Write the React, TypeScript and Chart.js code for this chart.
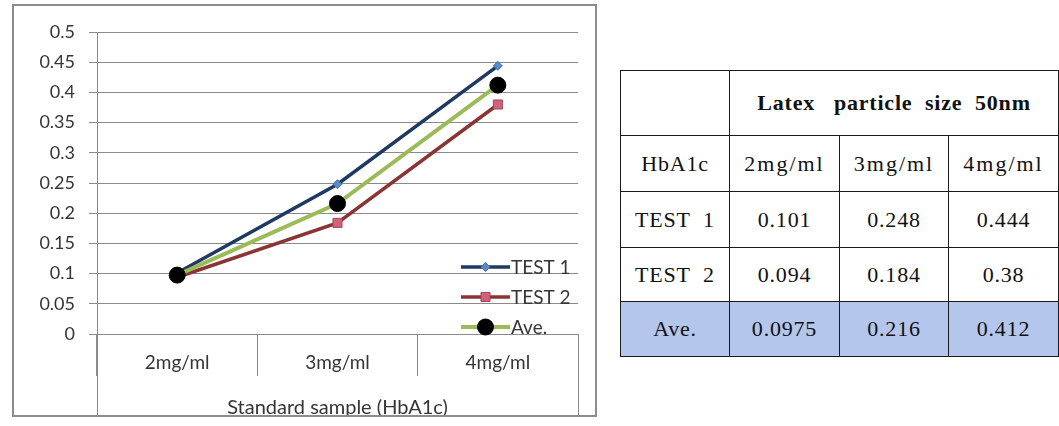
import React, { useEffect, useRef } from "react";
import { Chart, registerables } from "chart.js";

Chart.register(...registerables);

// ---- data ----
const categories = ["2mg/ml", "3mg/ml", "4mg/ml"];
const test1 = [0.101, 0.248, 0.444];
const test2 = [0.094, 0.184, 0.38];
const ave = [0.0975, 0.216, 0.412];
const seriesNames = ["TEST 1", "TEST 2", "Ave."];
const yTickLabels = ["0", "0.05", "0.1", "0.15", "0.2", "0.25", "0.3", "0.35", "0.4", "0.45", "0.5"];
const xAxisTitle = "Standard sample (HbA1c)";
const tableHeader = "Latex   particle  size  50nm";
const tableCorner = "HbA1c";
const tableRowNames = ["TEST  1", "TEST  2", "Ave."];
const tableRows = [test1, test2, ave];

// ---- styles ----
const GRID = "#8a8a8a";
const TEXT = "#353535";
const FONT = "Lato";

const legendPlugin = {
  id: "insideLegend",
  afterDatasetsDraw(chart: any) {
    const { ctx, chartArea } = chart;
    const ds = chart.data.datasets;
    const n = ds.length;
    ds.forEach((d: any, i: number) => {
      const y = chartArea.bottom - 7 - 30 * (n - 1 - i);
      const x0 = chartArea.right - 117;
      const x1 = chartArea.right - 68;
      const cx = (x0 + x1) / 2;
      ctx.save();
      ctx.strokeStyle = d.borderColor;
      ctx.lineWidth = d.borderWidth;
      ctx.beginPath();
      ctx.moveTo(x0, y);
      ctx.lineTo(x1, y);
      ctx.stroke();
      ctx.fillStyle = d.pointBackgroundColor;
      ctx.strokeStyle = d.pointBorderColor;
      ctx.lineWidth = 1;
      const r = d.pointRadius;
      ctx.beginPath();
      if (d.pointStyle === "circle") {
        ctx.arc(cx, y, r, 0, Math.PI * 2);
      } else if (d.pointStyle === "rect") {
        const s = Math.SQRT1_2 * r;
        ctx.rect(cx - s, y - s, 2 * s, 2 * s);
      } else {
        ctx.moveTo(cx, y - r);
        ctx.lineTo(cx + r, y);
        ctx.lineTo(cx, y + r);
        ctx.lineTo(cx - r, y);
        ctx.closePath();
      }
      ctx.fill();
      ctx.stroke();
      ctx.fillStyle = TEXT;
      ctx.font = `19px ${FONT}`;
      ctx.textBaseline = "middle";
      ctx.textAlign = "left";
      ctx.fillText(d.label, x1 + 1, y + 1);
      ctx.restore();
    });
  },
};

const bandPlugin = {
  id: "categoryBand",
  afterDraw(chart: any) {
    const { ctx, chartArea, height } = chart;
    ctx.save();
    ctx.strokeStyle = GRID;
    ctx.lineWidth = 1;
    ctx.beginPath();
    [chartArea.left, chartArea.right].forEach((x: number) => {
      const px = Math.round(x) + 0.5;
      ctx.moveTo(px, chartArea.bottom);
      ctx.lineTo(px, height - 11);
    });
    ctx.stroke();
    ctx.restore();
  },
};

function LineChart() {
  const ref = useRef<HTMLCanvasElement | null>(null);
  useEffect(() => {
    if (!ref.current) return;
    const chart = new Chart(ref.current, {
      type: "line",
      data: {
        labels: categories,
        datasets: [
          {
            label: seriesNames[0],
            data: test1,
            borderColor: "#1f3a60",
            borderWidth: 3.5,
            pointStyle: "rectRot",
            pointRadius: 4.5,
            pointBackgroundColor: "#5b8ac4",
            pointBorderColor: "#4471a8",
            pointBorderWidth: 1,
            tension: 0,
            order: 3,
          },
          {
            label: seriesNames[1],
            data: test2,
            borderColor: "#8b3434",
            borderWidth: 3.5,
            pointStyle: "rect",
            pointRadius: 6.4,
            pointBackgroundColor: "#d0637a",
            pointBorderColor: "#a5455a",
            pointBorderWidth: 1,
            tension: 0,
            order: 2,
          },
          {
            label: seriesNames[2],
            data: ave,
            borderColor: "#9bbb59",
            borderWidth: 4,
            pointStyle: "circle",
            pointRadius: 8,
            pointBackgroundColor: "#000000",
            pointBorderColor: "#000000",
            pointBorderWidth: 1,
            tension: 0,
            order: 1,
          },
        ],
      } as any,
      options: {
        animation: false,
        responsive: false,
        maintainAspectRatio: false,
        layout: { padding: { left: 0, right: 22, top: 32, bottom: 0 } },
        plugins: { legend: { display: false }, tooltip: { enabled: false } },
        scales: {
          x: {
            type: "category",
            offset: true,
            grid: {
              offset: true,
              drawOnChartArea: false,
              drawTicks: true,
              tickLength: 42,
              color: GRID,
              lineWidth: 1,
            },
            border: { display: true, color: GRID },
            ticks: {
              font: { family: FONT, size: 19 },
              color: TEXT,
              padding: -25,
              maxRotation: 0,
              autoSkip: false,
            },
            title: {
              display: true,
              text: xAxisTitle,
              font: { family: FONT, size: 20 },
              color: TEXT,
              padding: { top: 0, bottom: 6 },
            },
            afterFit: (s: any) => {
              s.height = 92;
            },
          },
          y: {
            min: 0,
            max: 0.5,
            ticks: {
              stepSize: 0.05,
              font: { family: FONT, size: 18 },
              color: TEXT,
              padding: 14,
              callback: (v: any, i: number) => yTickLabels[i] ?? String(Number(Number(v).toFixed(2))),
            },
            grid: { color: GRID, tickLength: 8, drawTicks: true, lineWidth: 1 },
            border: { display: true, color: GRID },
            afterFit: (s: any) => {
              s.width = 97;
            },
          },
        },
      } as any,
      plugins: [legendPlugin, bandPlugin],
    });
    return () => chart.destroy();
  }, []);
  return (
    <canvas
      ref={ref}
      width={600}
      height={426}
      style={{ position: "absolute", left: 0, top: 0, width: 600, height: 426 }}
    />
  );
}

const cellBorder = "1px solid #1a1a1a";
const cell: React.CSSProperties = {
  border: cellBorder,
  textAlign: "center",
  verticalAlign: "middle",
  padding: 0,
  whiteSpace: "pre",
  letterSpacing: 0.8,
};

function DataTable() {
  return (
    <table
      style={{
        position: "absolute",
        left: 620,
        top: 70,
        width: 439,
        height: 287,
        borderCollapse: "collapse",
        tableLayout: "fixed",
        fontFamily: '"Liberation Serif", serif',
        fontSize: 22,
        color: "#111",
      }}
    >
      <colgroup>
        <col style={{ width: 109 }} />
        <col style={{ width: 110 }} />
        <col style={{ width: 109 }} />
        <col style={{ width: 110 }} />
      </colgroup>
      <tbody>
        <tr style={{ height: 65 }}>
          <td style={cell}></td>
          <td style={{ ...cell, fontWeight: "bold" }} colSpan={3}>
            {tableHeader}
          </td>
        </tr>
        <tr style={{ height: 56 }}>
          <td style={cell}>{tableCorner}</td>
          {categories.map((c) => (
            <td key={c} style={{ ...cell, letterSpacing: 2 }}>
              {c}
            </td>
          ))}
        </tr>
        {tableRows.map((row, ri) => (
          <tr key={ri} style={{ height: ri === 2 ? 55 : ri === 1 ? 54 : 56 }}>
            <td style={{ ...cell, background: ri === 2 ? "#b4c6ec" : "#fff" }}>{tableRowNames[ri]}</td>
            {row.map((v, ci) => (
              <td key={ci} style={{ ...cell, background: ri === 2 ? "#b4c6ec" : "#fff" }}>
                {String(v)}
              </td>
            ))}
          </tr>
        ))}
      </tbody>
    </table>
  );
}

export default function App() {
  return (
    <div
      style={{
        position: "fixed",
        left: 0,
        top: 0,
        width: 1059,
        height: 426,
        background: "#ffffff",
        overflow: "hidden",
      }}
    >
      <LineChart />
      <div
        style={{
          position: "absolute",
          left: 12,
          top: 4,
          width: 585,
          height: 413,
          border: "2px solid #8c8c8c",
          boxSizing: "border-box",
          pointerEvents: "none",
        }}
      />
      <DataTable />
    </div>
  );
}
